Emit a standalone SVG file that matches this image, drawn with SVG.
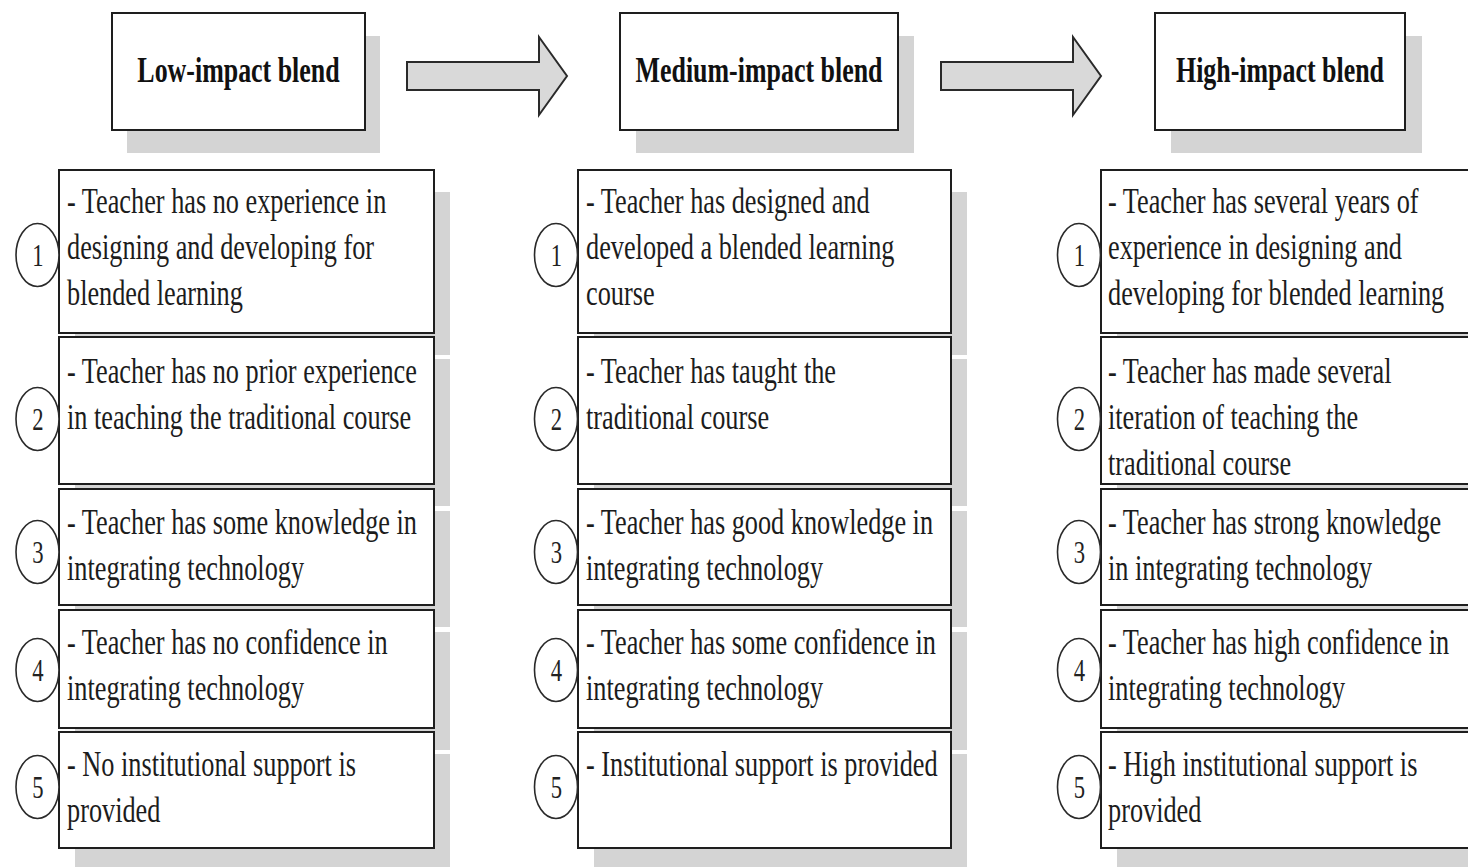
<svg xmlns="http://www.w3.org/2000/svg" width="1468" height="867" viewBox="0 0 1468 867">
<style>
.bg{fill:#ffffff}
.sh{fill:#d4d4d4}
.box{fill:#ffffff;stroke:#1e1e1e;stroke-width:2}
.hd{fill:#ffffff;stroke:#1e1e1e;stroke-width:2}
.arrow{fill:#d9d9d9;stroke:#2a2a2a;stroke-width:2;stroke-linejoin:miter}
.circ{fill:#ffffff;stroke:#2a2a2a;stroke-width:1.6}
.t{font-family:"Liberation Serif","Times New Roman",serif;font-size:36px;fill:#1c1c1c}
.h{font-family:"Liberation Serif","Times New Roman",serif;font-size:36px;font-weight:bold;fill:#111111;text-anchor:middle}
.n{font-family:"Liberation Serif","Times New Roman",serif;font-size:31px;fill:#222222;text-anchor:middle}
</style>
<rect class="bg" x="0" y="0" width="1468" height="867"/>

<g id="connectors">
  <polygon class="arrow" points="407,62 539,62 539,37 567,76 539,115 539,90 407,90"/>
  <polygon class="arrow" points="941,62 1073,62 1073,37 1101,76 1073,115 1073,90 941,90"/>
</g>

<!-- Column 1 -->
<g id="low-header">
  <rect class="sh" x="127" y="36" width="253" height="117"/>
  <rect class="hd" x="112" y="13" width="253" height="117"/>
  <text class="h" transform="matrix(0.72 0 0 1 238.5 82)">Low-impact blend</text>
</g>
<g id="low-1">
  <rect class="sh" x="75" y="192" width="375" height="163"/>
  <rect class="box" x="59" y="170" width="375" height="163"/>
  <text class="t" transform="matrix(0.73 0 0 1 67 213)"><tspan x="0" y="0">- Teacher has no experience in</tspan><tspan x="0" y="46">designing and developing for</tspan><tspan x="0" y="92">blended learning</tspan></text>
  <ellipse class="circ" cx="37.5" cy="255" rx="21.5" ry="31.5"/>
  <text class="n" transform="matrix(0.73 0 0 1 38 266)">1</text>
</g>
<g id="low-2">
  <rect class="sh" x="75" y="359" width="375" height="147"/>
  <rect class="box" x="59" y="337" width="375" height="147"/>
  <text class="t" transform="matrix(0.73 0 0 1 67 383)"><tspan x="0" y="0">- Teacher has no prior experience</tspan><tspan x="0" y="46">in teaching the traditional course</tspan></text>
  <ellipse class="circ" cx="37.5" cy="419" rx="21.5" ry="31.5"/>
  <text class="n" transform="matrix(0.73 0 0 1 38 430)">2</text>
</g>
<g id="low-3">
  <rect class="sh" x="75" y="511" width="375" height="116"/>
  <rect class="box" x="59" y="489" width="375" height="116"/>
  <text class="t" transform="matrix(0.73 0 0 1 67 534)"><tspan x="0" y="0">- Teacher has some knowledge in</tspan><tspan x="0" y="46">integrating technology</tspan></text>
  <ellipse class="circ" cx="37.5" cy="552" rx="21.5" ry="31.5"/>
  <text class="n" transform="matrix(0.73 0 0 1 38 563)">3</text>
</g>
<g id="low-4">
  <rect class="sh" x="75" y="632" width="375" height="118"/>
  <rect class="box" x="59" y="610" width="375" height="118"/>
  <text class="t" transform="matrix(0.73 0 0 1 67 654)"><tspan x="0" y="0">- Teacher has no confidence in</tspan><tspan x="0" y="46">integrating technology</tspan></text>
  <ellipse class="circ" cx="37.5" cy="670" rx="21.5" ry="31.5"/>
  <text class="n" transform="matrix(0.73 0 0 1 38 681)">4</text>
</g>
<g id="low-5">
  <rect class="sh" x="75" y="754" width="375" height="116"/>
  <rect class="box" x="59" y="732" width="375" height="116"/>
  <text class="t" transform="matrix(0.73 0 0 1 67 776)"><tspan x="0" y="0">- No institutional support is</tspan><tspan x="0" y="46">provided</tspan></text>
  <ellipse class="circ" cx="37.5" cy="787" rx="21.5" ry="31.5"/>
  <text class="n" transform="matrix(0.73 0 0 1 38 798)">5</text>
</g>

<!-- Column 2 -->
<g id="medium-header">
  <rect class="sh" x="636" y="36" width="278" height="117"/>
  <rect class="hd" x="620" y="13" width="278" height="117"/>
  <text class="h" transform="matrix(0.72 0 0 1 759 82)">Medium-impact blend</text>
</g>
<g id="medium-1">
  <rect class="sh" x="594" y="192" width="373" height="163"/>
  <rect class="box" x="578" y="170" width="373" height="163"/>
  <text class="t" transform="matrix(0.73 0 0 1 586 213)"><tspan x="0" y="0">- Teacher has designed and</tspan><tspan x="0" y="46">developed a blended learning</tspan><tspan x="0" y="92">course</tspan></text>
  <ellipse class="circ" cx="556" cy="255" rx="21.5" ry="31.5"/>
  <text class="n" transform="matrix(0.73 0 0 1 556.5 266)">1</text>
</g>
<g id="medium-2">
  <rect class="sh" x="594" y="359" width="373" height="147"/>
  <rect class="box" x="578" y="337" width="373" height="147"/>
  <text class="t" transform="matrix(0.73 0 0 1 586 383)"><tspan x="0" y="0">- Teacher has taught the</tspan><tspan x="0" y="46">traditional course</tspan></text>
  <ellipse class="circ" cx="556" cy="419" rx="21.5" ry="31.5"/>
  <text class="n" transform="matrix(0.73 0 0 1 556.5 430)">2</text>
</g>
<g id="medium-3">
  <rect class="sh" x="594" y="511" width="373" height="116"/>
  <rect class="box" x="578" y="489" width="373" height="116"/>
  <text class="t" transform="matrix(0.73 0 0 1 586 534)"><tspan x="0" y="0">- Teacher has good knowledge in</tspan><tspan x="0" y="46">integrating technology</tspan></text>
  <ellipse class="circ" cx="556" cy="552" rx="21.5" ry="31.5"/>
  <text class="n" transform="matrix(0.73 0 0 1 556.5 563)">3</text>
</g>
<g id="medium-4">
  <rect class="sh" x="594" y="632" width="373" height="118"/>
  <rect class="box" x="578" y="610" width="373" height="118"/>
  <text class="t" transform="matrix(0.73 0 0 1 586 654)"><tspan x="0" y="0">- Teacher has some confidence in</tspan><tspan x="0" y="46">integrating technology</tspan></text>
  <ellipse class="circ" cx="556" cy="670" rx="21.5" ry="31.5"/>
  <text class="n" transform="matrix(0.73 0 0 1 556.5 681)">4</text>
</g>
<g id="medium-5">
  <rect class="sh" x="594" y="754" width="373" height="116"/>
  <rect class="box" x="578" y="732" width="373" height="116"/>
  <text class="t" transform="matrix(0.73 0 0 1 586 776)"><tspan x="0" y="0">- Institutional support is provided</tspan></text>
  <ellipse class="circ" cx="556" cy="787" rx="21.5" ry="31.5"/>
  <text class="n" transform="matrix(0.73 0 0 1 556.5 798)">5</text>
</g>

<!-- Column 3 -->
<g id="high-header">
  <rect class="sh" x="1171" y="36" width="251" height="117"/>
  <rect class="hd" x="1155" y="13" width="250" height="117"/>
  <text class="h" transform="matrix(0.72 0 0 1 1280 82)">High-impact blend</text>
</g>
<g id="high-1">
  <rect class="sh" x="1117" y="192" width="380" height="163"/>
  <rect class="box" x="1101" y="170" width="380" height="163"/>
  <text class="t" transform="matrix(0.73 0 0 1 1108 213)"><tspan x="0" y="0">- Teacher has several years of</tspan><tspan x="0" y="46">experience in designing and</tspan><tspan x="0" y="92">developing for blended learning</tspan></text>
  <ellipse class="circ" cx="1079" cy="255" rx="21.5" ry="31.5"/>
  <text class="n" transform="matrix(0.73 0 0 1 1079.5 266)">1</text>
</g>
<g id="high-2">
  <rect class="sh" x="1117" y="359" width="380" height="147"/>
  <rect class="box" x="1101" y="337" width="380" height="147"/>
  <text class="t" transform="matrix(0.73 0 0 1 1108 383)"><tspan x="0" y="0">- Teacher has made several</tspan><tspan x="0" y="46">iteration of teaching the</tspan><tspan x="0" y="92">traditional course</tspan></text>
  <ellipse class="circ" cx="1079" cy="419" rx="21.5" ry="31.5"/>
  <text class="n" transform="matrix(0.73 0 0 1 1079.5 430)">2</text>
</g>
<g id="high-3">
  <rect class="sh" x="1117" y="511" width="380" height="116"/>
  <rect class="box" x="1101" y="489" width="380" height="116"/>
  <text class="t" transform="matrix(0.73 0 0 1 1108 534)"><tspan x="0" y="0">- Teacher has strong knowledge</tspan><tspan x="0" y="46">in integrating technology</tspan></text>
  <ellipse class="circ" cx="1079" cy="552" rx="21.5" ry="31.5"/>
  <text class="n" transform="matrix(0.73 0 0 1 1079.5 563)">3</text>
</g>
<g id="high-4">
  <rect class="sh" x="1117" y="632" width="380" height="118"/>
  <rect class="box" x="1101" y="610" width="380" height="118"/>
  <text class="t" transform="matrix(0.73 0 0 1 1108 654)"><tspan x="0" y="0">- Teacher has high confidence in</tspan><tspan x="0" y="46">integrating technology</tspan></text>
  <ellipse class="circ" cx="1079" cy="670" rx="21.5" ry="31.5"/>
  <text class="n" transform="matrix(0.73 0 0 1 1079.5 681)">4</text>
</g>
<g id="high-5">
  <rect class="sh" x="1117" y="754" width="380" height="116"/>
  <rect class="box" x="1101" y="732" width="380" height="116"/>
  <text class="t" transform="matrix(0.73 0 0 1 1108 776)"><tspan x="0" y="0">- High institutional support is</tspan><tspan x="0" y="46">provided</tspan></text>
  <ellipse class="circ" cx="1079" cy="787" rx="21.5" ry="31.5"/>
  <text class="n" transform="matrix(0.73 0 0 1 1079.5 798)">5</text>
</g>
</svg>
